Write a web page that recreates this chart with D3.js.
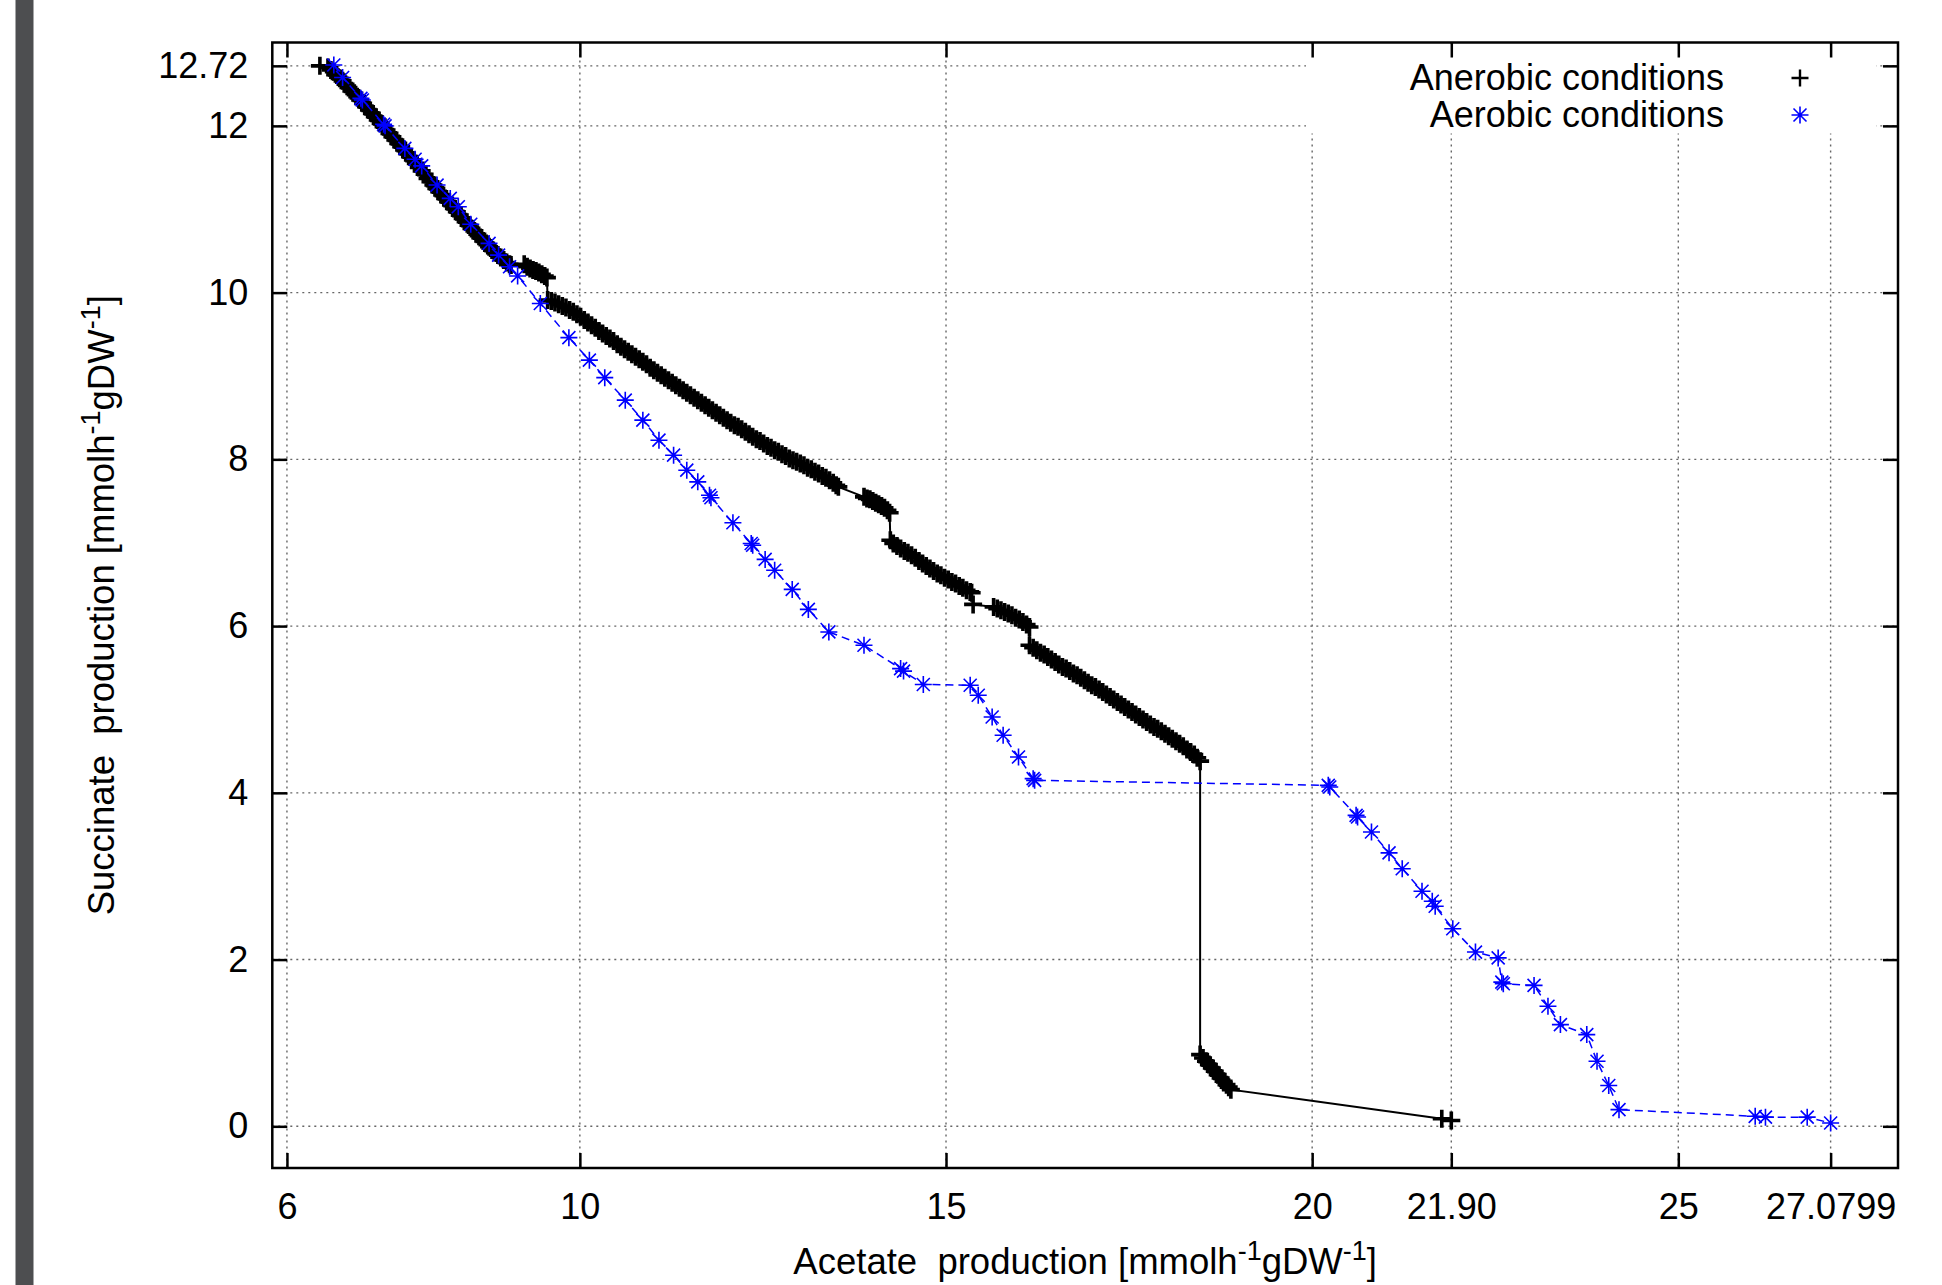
<!DOCTYPE html>
<html><head><meta charset="utf-8">
<script src="https://cdn.jsdelivr.net/npm/d3@7"></script>
<style>html,body{margin:0;padding:0;background:#fff;} svg{display:block;}</style>
</head><body>
<svg id="c" width="1942" height="1285"></svg>
<script>
// ---------------- data ----------------
const seriesNames = ["Anerobic conditions", "Aerobic conditions"];
const xTickValues = [6, 10, 15, 20, 21.90, 25, 27.0799];
const xTickLabels = ["6", "10", "15", "20", "21.90", "25", "27.0799"];
const yTickValues = [0, 2, 4, 6, 8, 10, 12, 12.72];
const yTickLabels = ["0", "2", "4", "6", "8", "10", "12", "12.72"];

// [acetate, succinate] (dense band of points)
const anaerobic = [
 [6.45,12.72],
 [6.56,12.70],[6.60,12.67],[6.64,12.65],[6.68,12.61],[6.72,12.57],[6.76,12.54],[6.80,12.50],[6.84,12.46],
 [6.88,12.42],[6.92,12.39],[6.96,12.35],[7.00,12.31],[7.04,12.27],[7.08,12.23],[7.12,12.19],[7.16,12.15],
 [7.20,12.11],[7.24,12.07],[7.28,12.03],[7.32,11.99],[7.36,11.95],[7.40,11.91],[7.44,11.87],[7.48,11.83],
 [7.52,11.79],[7.56,11.75],[7.60,11.71],[7.64,11.67],[7.68,11.63],[7.72,11.59],[7.76,11.55],[7.80,11.50],
 [7.84,11.46],[7.88,11.42],[7.92,11.37],[7.96,11.33],[8.00,11.29],[8.04,11.25],[8.08,11.21],[8.12,11.17],
 [8.16,11.13],[8.20,11.09],[8.24,11.05],[8.28,11.01],[8.32,10.97],[8.36,10.93],[8.40,10.89],[8.44,10.85],
 [8.48,10.81],[8.52,10.77],[8.56,10.74],[8.60,10.70],[8.64,10.66],[8.68,10.62],[8.72,10.59],[8.76,10.55],
 [8.80,10.51],[8.84,10.48],[8.88,10.45],[8.92,10.42],[8.96,10.39],[9.00,10.36],[9.04,10.34],[9.06,10.33],
 [9.24,10.34],[9.28,10.31],[9.32,10.29],[9.36,10.27],[9.40,10.26],[9.44,10.24],[9.48,10.22],[9.52,10.20],[9.55,10.18],
 [9.56,9.91],[9.61,9.90],[9.66,9.88],[9.71,9.86],[9.76,9.84],[9.81,9.82],[9.86,9.79],[9.91,9.77],
 [9.96,9.74],[10.01,9.71],[10.06,9.67],[10.11,9.64],[10.16,9.61],[10.21,9.58],[10.26,9.54],[10.31,9.51],
 [10.36,9.48],[10.41,9.45],[10.46,9.42],[10.51,9.38],[10.56,9.35],[10.61,9.32],[10.66,9.29],[10.71,9.26],
 [10.76,9.23],[10.81,9.20],[10.86,9.17],[10.91,9.14],[10.96,9.10],[11.01,9.07],[11.06,9.04],[11.11,9.01],
 [11.16,8.98],[11.21,8.95],[11.26,8.92],[11.31,8.89],[11.36,8.86],[11.41,8.83],[11.46,8.80],[11.51,8.77],
 [11.56,8.74],[11.61,8.71],[11.66,8.68],[11.71,8.65],[11.76,8.62],[11.81,8.59],[11.86,8.56],[11.91,8.53],
 [11.96,8.50],[12.01,8.47],[12.06,8.44],[12.11,8.41],[12.16,8.39],[12.21,8.36],[12.26,8.33],[12.31,8.30],
 [12.36,8.27],[12.41,8.24],[12.46,8.22],[12.51,8.19],[12.56,8.16],[12.61,8.14],[12.66,8.11],[12.71,8.09],
 [12.76,8.06],[12.81,8.04],[12.86,8.01],[12.91,7.99],[12.96,7.97],[13.01,7.95],[13.06,7.93],[13.11,7.90],
 [13.16,7.88],[13.21,7.85],[13.26,7.83],[13.31,7.80],[13.36,7.78],[13.41,7.75],[13.46,7.72],[13.50,7.69],[13.53,7.67],
 [13.88,7.55],[13.92,7.53],[13.96,7.52],[14.00,7.50],[14.04,7.48],[14.08,7.46],[14.12,7.44],[14.16,7.42],[14.20,7.39],[14.23,7.36],
 [14.24,7.03],[14.28,6.99],[14.33,6.96],[14.38,6.93],[14.43,6.90],[14.48,6.88],[14.53,6.85],[14.58,6.82],
 [14.63,6.78],[14.68,6.75],[14.73,6.72],[14.78,6.69],[14.83,6.66],[14.88,6.63],[14.93,6.61],[14.98,6.58],
 [15.03,6.56],[15.08,6.53],[15.13,6.51],[15.18,6.48],[15.23,6.46],[15.28,6.43],[15.33,6.41],[15.35,6.40],
 [15.37,6.26],
 [15.65,6.23],[15.70,6.21],[15.75,6.19],[15.80,6.17],[15.85,6.15],[15.90,6.13],[15.95,6.10],[16.00,6.08],
 [16.05,6.05],[16.10,6.02],[16.14,5.99],
 [16.14,5.77],[16.19,5.74],[16.24,5.71],[16.29,5.68],[16.34,5.66],[16.39,5.63],[16.44,5.60],[16.49,5.57],
 [16.54,5.54],[16.59,5.51],[16.64,5.49],[16.69,5.46],[16.74,5.43],[16.79,5.41],[16.84,5.38],[16.89,5.35],
 [16.94,5.32],[16.99,5.29],[17.04,5.27],[17.09,5.24],[17.14,5.21],[17.19,5.18],[17.24,5.15],[17.29,5.12],
 [17.34,5.09],[17.39,5.06],[17.44,5.03],[17.49,5.00],[17.54,4.97],[17.59,4.94],[17.64,4.91],[17.69,4.88],
 [17.74,4.85],[17.79,4.82],[17.84,4.79],[17.89,4.77],[17.94,4.74],[17.99,4.71],[18.04,4.68],[18.09,4.65],
 [18.14,4.62],[18.19,4.59],[18.24,4.56],[18.29,4.52],[18.34,4.49],[18.39,4.46],[18.43,4.42],[18.47,4.38],
 [18.47,0.86],[18.51,0.82],[18.55,0.78],[18.59,0.74],[18.63,0.70],[18.67,0.66],[18.71,0.62],[18.75,0.58],
 [18.79,0.54],[18.83,0.50],[18.86,0.47],[18.89,0.44],
 [21.77,0.09],[21.90,0.07]
];

const aerobic = [
 [6.64,12.73],[6.76,12.58],[7.01,12.33],[7.03,12.31],[7.32,12.02],[7.34,12.00],[7.61,11.73],[7.75,11.60],
 [7.84,11.52],[8.05,11.29],[8.23,11.13],[8.34,11.03],[8.51,10.82],[8.76,10.59],[8.89,10.45],[9.04,10.31],
 [9.15,10.20],[9.46,9.87],[9.85,9.46],[10.13,9.19],[10.34,8.98],[10.62,8.71],[10.86,8.47],[11.08,8.23],
 [11.28,8.05],[11.46,7.87],[11.61,7.73],[11.77,7.57],[11.79,7.54],[12.09,7.24],[12.34,6.99],[12.36,6.97],
 [12.53,6.80],[12.66,6.67],[12.90,6.44],[13.12,6.20],[13.40,5.93],[13.88,5.77],[14.38,5.49],[14.42,5.46],
 [14.69,5.30],[15.33,5.29],[15.44,5.17],[15.63,4.91],[15.78,4.69],[15.99,4.43],[16.19,4.17],[16.21,4.15],
 [20.22,4.09],[20.24,4.07],[20.60,3.73],[20.62,3.71],[20.81,3.53],[21.05,3.28],[21.23,3.09],[21.50,2.82],
 [21.64,2.70],[21.68,2.64],[21.92,2.37],[22.23,2.09],[22.54,2.02],[22.59,1.73],[22.61,1.71],[23.03,1.69],
 [23.22,1.44],[23.39,1.22],[23.75,1.10],[23.89,0.78],[24.05,0.49],[24.19,0.20],[26.05,0.12],[26.19,0.11],
 [26.76,0.11],[27.08,0.04]
];

// ---------------- drawing ----------------
const W = 1942, H = 1285;
const m = {left: 272.3, right: 1898, top: 42.5, bottom: 1168};
const FONT = "'Liberation Sans', Arial, Helvetica, sans-serif";
const svg = d3.select("#c");
const x = d3.scaleLinear().domain([5.8, 28]).range([m.left, m.right]);
const y = d3.scaleLinear().domain([-0.5, 13]).range([m.bottom, m.top]);

svg.append("rect").attr("width", W).attr("height", H).attr("fill", "#fff");
// left grey strip
svg.append("rect").attr("x", 15.5).attr("y", 0).attr("width", 18).attr("height", H).attr("fill", "#4d4e50");

// grid
const grid = svg.append("g").attr("stroke", "#666").attr("stroke-width", 1.4).attr("stroke-dasharray", "2,4");
grid.selectAll("line.gx").data(xTickValues).join("line").attr("class", "gx")
  .attr("x1", d => x(d)).attr("x2", d => x(d)).attr("y1", m.top).attr("y2", m.bottom);
grid.selectAll("line.gy").data(yTickValues).join("line").attr("class", "gy")
  .attr("y1", d => y(d)).attr("y2", d => y(d)).attr("x1", m.left).attr("x2", m.right);

// key area (covers grid)
svg.append("rect").attr("x", 1306).attr("y", m.top + 2).attr("width", 570).attr("height", 89).attr("fill", "#fff");

// axes
function styleAxis(g) {
  g.select(".domain").remove();
  g.selectAll(".tick line").attr("stroke", "#000").attr("stroke-width", 2.5);
  g.selectAll(".tick text").attr("font-family", FONT).attr("font-size", 36).attr("fill", "#000");
}
svg.append("g").attr("transform", `translate(0,${m.bottom})`)
  .call(d3.axisBottom(x).tickValues(xTickValues).tickFormat((d, i) => xTickLabels[i])
        .tickSizeInner(-15).tickSizeOuter(0).tickPadding(25)).call(styleAxis);
svg.append("g").attr("transform", `translate(0,${m.top})`)
  .call(d3.axisTop(x).tickValues(xTickValues).tickFormat("").tickSizeInner(-15).tickSizeOuter(0)).call(styleAxis);
svg.append("g").attr("transform", `translate(${m.left},0)`)
  .call(d3.axisLeft(y).tickValues(yTickValues).tickFormat((d, i) => yTickLabels[i])
        .tickSizeInner(-15).tickSizeOuter(0).tickPadding(24)).call(styleAxis);
svg.append("g").attr("transform", `translate(${m.right},0)`)
  .call(d3.axisRight(y).tickValues(yTickValues).tickFormat("").tickSizeInner(-15).tickSizeOuter(0)).call(styleAxis);

// frame
svg.append("rect").attr("x", m.left).attr("y", m.top).attr("width", m.right - m.left).attr("height", m.bottom - m.top)
  .attr("fill", "none").attr("stroke", "#000").attr("stroke-width", 2.5);

const line = d3.line().x(d => x(d[0])).y(d => y(d[1]));
const plusPath = "M-8.5,0H8.5M0,-8.5V8.5";
const bandPlusPath = "M-9,0H9M0,-9V9";
const starPath = "M-8.5,0H8.5M0,-8.5V8.5M-6.5,-6.5L6.5,6.5M-6.5,6.5L6.5,-6.5";

// anaerobic
svg.append("path").datum(anaerobic).attr("d", line).attr("fill", "none").attr("stroke", "#000").attr("stroke-width", 2);
svg.append("g").selectAll("path").data(anaerobic).join("path")
  .attr("transform", d => `translate(${x(d[0])},${y(d[1])})`).attr("d", bandPlusPath)
  .attr("stroke", "#000").attr("stroke-width", 3.6).attr("fill", "none");

// aerobic
svg.append("path").datum(aerobic).attr("d", line).attr("fill", "none").attr("stroke", "#0000ff")
  .attr("stroke-width", 1.5).attr("stroke-dasharray", "8,5");
svg.append("g").selectAll("path").data(aerobic).join("path")
  .attr("transform", d => `translate(${x(d[0])},${y(d[1])})`).attr("d", starPath)
  .attr("stroke", "#0000ff").attr("stroke-width", 1.6).attr("fill", "none");

// legend
const legend = svg.append("g").attr("font-family", FONT).attr("font-size", 36).attr("fill", "#000");
legend.selectAll("text").data(seriesNames).join("text")
  .attr("x", 1724).attr("y", (d, i) => 90 + i * 37).attr("text-anchor", "end").text(d => d);
legend.append("path").attr("transform", "translate(1800,78)").attr("d", plusPath).attr("stroke", "#000").attr("stroke-width", 2.4);
legend.append("path").attr("transform", "translate(1800,115)").attr("d", starPath).attr("stroke", "#0000ff").attr("stroke-width", 1.6);

// axis labels
function unitLabel(t, prefix) {
  t.append("tspan").text(prefix + " [mmolh");
  t.append("tspan").attr("font-size", 27).attr("dy", -14).text("-1");
  t.append("tspan").attr("dy", 14).text("gDW");
  t.append("tspan").attr("font-size", 27).attr("dy", -14).text("-1");
  t.append("tspan").attr("dy", 14).text("]");
}
const xl = svg.append("text").attr("x", (m.left + m.right) / 2).attr("y", 1274).attr("text-anchor", "middle")
  .attr("font-family", FONT).attr("font-size", 36.5).attr("fill", "#000").style("white-space", "pre");
unitLabel(xl, "Acetate  production");
const yl = svg.append("text").attr("transform", `translate(114,${(m.top + m.bottom) / 2}) rotate(-90)`)
  .attr("text-anchor", "middle").attr("font-family", FONT).attr("font-size", 36.5).attr("fill", "#000").style("white-space", "pre");
unitLabel(yl, "Succinate  production");
</script>
</body></html>
